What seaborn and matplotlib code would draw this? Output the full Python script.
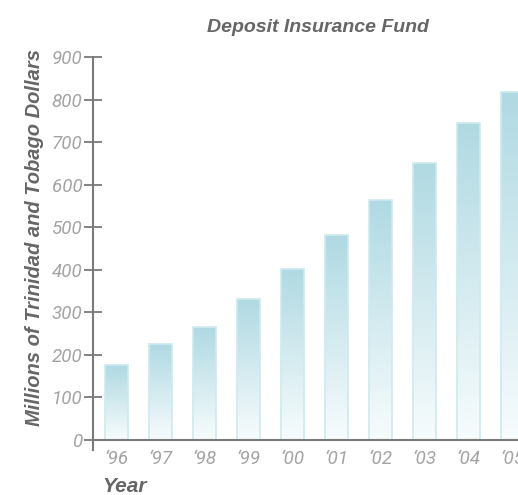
import numpy as np
import pandas as pd
import matplotlib
matplotlib.use("Agg")
import matplotlib.pyplot as plt
import seaborn as sns
from matplotlib.colors import LinearSegmentedColormap

# Deposit Insurance Fund balance, millions of TT$
years = ["‘96", "‘97", "‘98", "‘99", "‘00", "‘01", "‘02", "‘03", "‘04", "‘05"]
fund = [176, 225, 265, 331, 402, 481, 564, 651, 745, 818]
y_ticks = [0, 100, 200, 300, 400, 500, 600, 700, 800, 900]

df = pd.DataFrame({"year": years, "fund": fund})

sns.set_style("white")
tick_font = ["Roboto", "DejaVu Sans"]
plt.rcParams["font.family"] = ["Liberation Sans", "DejaVu Sans"]

W, H = 518, 495
fig = plt.figure(figsize=(W / 100, H / 100), dpi=100)
# axes: left edge at the y axis, bottom 10 px below zero, right edge runs off the figure
px_per_unit = (440 - 57) / 900
ybot = -10 / px_per_unit
ax = fig.add_axes([93 / W, 1 - 450 / H, 1 - 93 / W, (450 - 57) / H])

sns.barplot(data=df, x="year", y="fund", ax=ax, width=0.52,
            color="#b0d9e2", edgecolor="#cfe9ef", linewidth=1.2, zorder=2)

# vertical gradient fill inside each bar
cmap = LinearSegmentedColormap.from_list("fade", ["#f7fcfd", "#b0d9e2"])
grad = np.linspace(0, 1, 256).reshape(-1, 1)
for p in ax.patches:
    x0, w, h = p.get_x(), p.get_width(), p.get_height()
    p.set_facecolor("none")
    im = ax.imshow(grad, cmap=cmap, origin="lower", aspect="auto",
                   extent=[x0, x0 + w, 0, h], zorder=1.5, interpolation="bilinear")
    im.set_clip_path(p)

ax.set_xlim(-0.534, (518 - 116.5) / 44)
ax.set_ylim(ybot, 900)
ax.set_yticks(y_ticks)

for s in ["top", "right", "bottom"]:
    ax.spines[s].set_visible(False)
ax.spines["left"].set_color("#7a7a7a")
ax.spines["left"].set_linewidth(1.5)
ax.spines["left"].set_bounds(ybot, 900)
ax.axhline(0, color="#7a7a7a", lw=1.5, zorder=3)

ax.tick_params(axis="y", direction="inout", length=13, width=1.3, color="#7a7a7a",
               pad=1, left=True)
ax.tick_params(axis="x", length=0, pad=0)
for lab in ax.get_yticklabels() + ax.get_xticklabels():
    lab.set_family(tick_font)
    lab.set_style("italic")
    lab.set_fontweight("normal")
    lab.set_fontsize(13.5)
    lab.set_color("#a3a3a3")

ax.set_xlabel("")
ax.set_ylabel("")
fig.text(318 / W, 1 - 27 / H, "Deposit Insurance Fund", ha="center", va="center",
         fontsize=14, fontweight="bold", style="italic", color="#666666")
fig.text(35 / W, 1 - 238 / H, "Millions of Trinidad and Tobago Dollars", ha="center",
         va="center", rotation=90, fontsize=14.5, fontweight="bold", style="italic",
         color="#666666")
fig.text(125 / W, 1 - 487 / H, "Year", ha="center", va="center",
         fontsize=15, fontweight="bold", style="italic", color="#666666")

fig.savefig("out.png", dpi=100)
